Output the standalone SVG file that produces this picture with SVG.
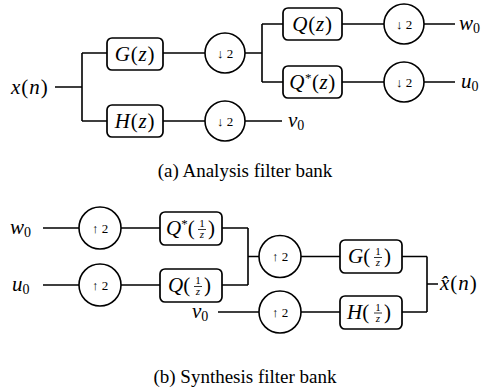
<svg xmlns="http://www.w3.org/2000/svg" width="497" height="391" viewBox="0 0 497 391">
<style>
.box{fill:#fff;stroke:#000;stroke-width:1.7}
.circ{fill:#fff;stroke:#000;stroke-width:1.6}
.wire{fill:none;stroke:#000;stroke-width:1.6}
.m{font-family:"Liberation Serif","DejaVu Serif",serif;font-size:21px;fill:#000}
.i{font-style:italic}
.op{font-family:"Liberation Serif","DejaVu Serif",serif;font-size:13px;fill:#000}
.fr{font-family:"Liberation Serif","DejaVu Serif",serif;font-size:11px;fill:#000}
.cap{font-family:"Liberation Serif","Times New Roman",serif;font-size:19px;fill:#000}
</style>
<rect width="497" height="391" fill="#fff"/>
<g id="connectors">
<path class="wire" d="M55 87H82M82 53V121M82 53H107M82 121H107"/>
<path class="wire" d="M163 53H205M245 53H262M262 24V82M262 24H283M262 82H283"/>
<path class="wire" d="M342 24H384M424 24H455M342 82H384M424 82H455"/>
<path class="wire" d="M163 121H205M245 121H282"/>
<path class="wire" d="M43 228H79M121 228H160M222 228H248"/>
<path class="wire" d="M43 285H79M121 285H160M222 285H248"/>
<path class="wire" d="M248 228V285M248 256.5H259M301 256.5H340M402 256.5H427M427 256.5V312M427 284H438"/>
<path class="wire" d="M218 312H259M301 312H340M402 312H427"/>
</g>
<g id="xn"><text class="m" x="11" y="94" letter-spacing="1"><tspan class="i">x</tspan>(<tspan class="i">n</tspan>)</text></g>
<g id="G"><rect class="box" x="107" y="38" width="56" height="32" rx="5"/><text class="m" x="135" y="60.5" text-anchor="middle" letter-spacing="0.8"><tspan class="i">G</tspan>(<tspan class="i">z</tspan>)</text></g>
<g id="H"><rect class="box" x="107" y="105" width="56" height="32" rx="5"/><text class="m" x="135" y="127.5" text-anchor="middle" letter-spacing="0.8"><tspan class="i">H</tspan>(<tspan class="i">z</tspan>)</text></g>
<g id="down1"><circle class="circ" cx="225" cy="53" r="20"/><text class="op" x="225" y="57.5" text-anchor="middle">↓ 2</text></g>
<g id="down2"><circle class="circ" cx="225" cy="121" r="20"/><text class="op" x="225" y="125.5" text-anchor="middle">↓ 2</text></g>
<g id="Q"><rect class="box" x="283" y="8" width="59" height="32" rx="5"/><text class="m" x="312.5" y="30.5" text-anchor="middle" letter-spacing="0.8"><tspan class="i">Q</tspan>(<tspan class="i">z</tspan>)</text></g>
<g id="Qs"><rect class="box" x="283" y="66" width="59" height="32" rx="5"/><text class="m" x="312.5" y="88.5" text-anchor="middle" letter-spacing="0.5"><tspan class="i">Q</tspan><tspan font-size="13" dy="-7">*</tspan><tspan dy="7">(</tspan><tspan class="i">z</tspan>)</text></g>
<g id="down3"><circle class="circ" cx="404" cy="24" r="20"/><text class="op" x="404" y="28.5" text-anchor="middle">↓ 2</text></g>
<g id="down4"><circle class="circ" cx="404" cy="82" r="20"/><text class="op" x="404" y="86.5" text-anchor="middle">↓ 2</text></g>
<g id="w0a"><text class="m" x="459" y="30"><tspan class="i">w</tspan><tspan font-size="14" dy="3">0</tspan></text></g>
<g id="u0a"><text class="m" x="461" y="88"><tspan class="i">u</tspan><tspan font-size="14" dy="3">0</tspan></text></g>
<g id="v0a"><text class="m" x="288" y="127"><tspan class="i">v</tspan><tspan font-size="14" dy="3">0</tspan></text></g>
<g id="capa"><text class="cap" x="245" y="177" text-anchor="middle">(a) Analysis filter bank</text></g>
<g id="w0s"><text class="m" x="10" y="234"><tspan class="i">w</tspan><tspan font-size="14" dy="3">0</tspan></text></g>
<g id="u0s"><text class="m" x="12" y="291"><tspan class="i">u</tspan><tspan font-size="14" dy="3">0</tspan></text></g>
<g id="up1"><circle class="circ" cx="100" cy="228" r="21"/><text class="op" x="100" y="232.5" text-anchor="middle">↑ 2</text></g>
<g id="up2"><circle class="circ" cx="100" cy="285" r="21"/><text class="op" x="100" y="289.5" text-anchor="middle">↑ 2</text></g>
<g id="Qsinv"><rect class="box" x="160" y="212" width="62" height="33" rx="5"/>
<text class="m" x="166" y="235"><tspan class="i">Q</tspan><tspan font-size="13" dy="-7">*</tspan><tspan dy="7">(</tspan></text>
<text class="fr" x="202" y="227" text-anchor="middle">1</text><line x1="198" y1="229.5" x2="206" y2="229.5" stroke="#000" stroke-width="0.8"/><text class="fr i" x="202" y="238" text-anchor="middle">z</text>
<text class="m" x="208" y="235">)</text></g>
<g id="Qinv"><rect class="box" x="160" y="269" width="62" height="33" rx="5"/>
<text class="m" x="168" y="292"><tspan class="i">Q</tspan>(</text>
<text class="fr" x="198" y="284" text-anchor="middle">1</text><line x1="194" y1="286.5" x2="202" y2="286.5" stroke="#000" stroke-width="0.8"/><text class="fr i" x="198" y="295" text-anchor="middle">z</text>
<text class="m" x="204" y="292">)</text></g>
<g id="v0s"><text class="m" x="192" y="318"><tspan class="i">v</tspan><tspan font-size="14" dy="3">0</tspan></text></g>
<g id="up3"><circle class="circ" cx="280" cy="256.5" r="21"/><text class="op" x="280" y="261" text-anchor="middle">↑ 2</text></g>
<g id="up4"><circle class="circ" cx="280" cy="312" r="21"/><text class="op" x="280" y="316.5" text-anchor="middle">↑ 2</text></g>
<g id="Ginv"><rect class="box" x="340" y="240" width="62" height="33" rx="5"/>
<text class="m" x="348" y="263"><tspan class="i">G</tspan>(</text>
<text class="fr" x="378" y="255" text-anchor="middle">1</text><line x1="374" y1="257.5" x2="382" y2="257.5" stroke="#000" stroke-width="0.8"/><text class="fr i" x="378" y="266" text-anchor="middle">z</text>
<text class="m" x="384" y="263">)</text></g>
<g id="Hinv"><rect class="box" x="340" y="296" width="62" height="33" rx="5"/>
<text class="m" x="347" y="318.5"><tspan class="i">H</tspan>(</text>
<text class="fr" x="378" y="310.5" text-anchor="middle">1</text><line x1="374" y1="313" x2="382" y2="313" stroke="#000" stroke-width="0.8"/><text class="fr i" x="378" y="321.5" text-anchor="middle">z</text>
<text class="m" x="384" y="318.5">)</text></g>
<g id="xhat"><text class="m" x="440" y="290" letter-spacing="1"><tspan class="i">x̂</tspan>(<tspan class="i">n</tspan>)</text></g>
<g id="capb"><text class="cap" x="245" y="383" text-anchor="middle">(b) Synthesis filter bank</text></g>
</svg>
